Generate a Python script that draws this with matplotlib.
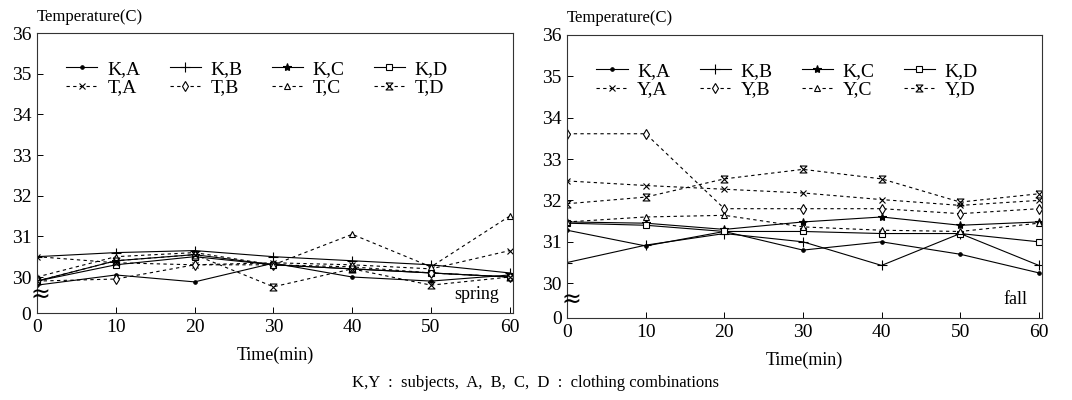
import matplotlib
matplotlib.use('Agg')
import matplotlib.pyplot as plt

plt.rcParams['font.family'] = ['Liberation Serif', 'DejaVu Serif']

time_min = [0, 10, 20, 30, 40, 50, 60]

# spring: subjects K and T
spring = {
    'K,A': [29.8, 30.05, 29.88, 30.34, 30.0, 29.9, 30.05],
    'K,B': [30.5, 30.6, 30.65, 30.5, 30.4, 30.3, 30.1],
    'K,C': [29.9, 30.4, 30.55, 30.3, 30.2, 30.1, 30.0],
    'K,D': [29.9, 30.3, 30.5, 30.3, 30.2, 30.1, 30.0],
    'T,A': [30.5, 30.35, 30.3, 30.35, 30.3, 30.2, 30.65],
    'T,B': [29.9, 29.95, 30.3, 30.3, 30.25, 30.1, 30.0],
    'T,C': [30.0, 30.5, 30.6, 30.3, 31.05, 30.25, 31.5],
    'T,D': [29.9, 30.4, 30.55, 29.76, 30.2, 29.8, 30.0],
}

# fall: subjects K and Y
fall = {
    'K,A': [31.28, 30.9, 31.25, 30.8, 31.0, 30.7, 30.25],
    'K,B': [30.5, 30.92, 31.2, 31.0, 30.43, 31.2, 30.43],
    'K,C': [31.48, 31.45, 31.3, 31.48, 31.6, 31.4, 31.48],
    'K,D': [31.45, 31.4, 31.25, 31.25, 31.2, 31.2, 31.0],
    'Y,A': [32.47, 32.36, 32.27, 32.18, 32.02, 31.88, 32.0],
    'Y,B': [33.61, 33.61, 31.8, 31.8, 31.8, 31.68, 31.8],
    'Y,C': [31.48, 31.6, 31.64, 31.36, 31.28, 31.25, 31.45],
    'Y,D': [31.92, 32.08, 32.52, 32.75, 32.52, 31.96, 32.16],
}

hourglass = [(-1, 1), (1, 1), (-1, -1), (1, -1), (-1, 1)]
styles = [
    dict(ls='-', marker='.', ms=5),
    dict(ls='-', marker='+', ms=7),
    dict(ls='-', marker='*', ms=6),
    dict(ls='-', marker='s', ms=5, mfc='white'),
    dict(ls=(0, (3, 3)), marker='x', ms=4),
    dict(ls=(0, (3, 3)), marker='d', ms=5, mfc='white'),
    dict(ls=(0, (3, 3)), marker='^', ms=5, mfc='white'),
    dict(ls=(0, (3, 3)), marker=hourglass, ms=5, mfc='none'),
]

fig = plt.figure(figsize=(10.72, 4.0), dpi=100)


def panel(rect, data, ybot, season):
    ax = fig.add_axes(rect)
    handles = []
    for (name, vals), st in zip(data.items(), styles):
        h, = ax.plot(time_min, vals, color='black', lw=0.8, mew=0.8, label=name, **st)
        handles.append(h)
    ax.set_xlim(0, 60.4)
    ax.set_ylim(ybot, 36)
    ax.set_xticks(time_min)
    ax.set_yticks([ybot, 30, 31, 32, 33, 34, 35, 36])
    ax.set_yticklabels(['0', '30', '31', '32', '33', '34', '35', '36'])
    ax.tick_params(direction='in', length=4, width=0.7, labelsize=14, pad=4)
    for s in ax.spines.values():
        s.set_linewidth(0.8)
        s.set_color('#333333')
    order = [0, 4, 1, 5, 2, 6, 3, 7]
    ax.legend([handles[i] for i in order], [handles[i].get_label() for i in order],
              ncol=4, loc='upper left', bbox_to_anchor=(0.025, 0.965), frameon=False,
              fontsize=14, handlelength=1.6, handletextpad=0.5, columnspacing=1.5,
              labelspacing=0.05)
    ax.text(0.0, 1.03, 'Temperature(C)', transform=ax.transAxes, fontsize=12,
            ha='left', va='bottom')
    ax.text(0.5, -0.12, 'Time(min)', transform=ax.transAxes, fontsize=13,
            ha='center', va='top')
    ax.text(0.97, 0.035, season, transform=ax.transAxes, fontsize=13,
            ha='right', va='bottom')
    ax.text(0.008, 0.065, '\u2248', transform=ax.transAxes, fontsize=17,
            ha='center', va='center', family='DejaVu Sans')
    return ax


panel([0.0345, 0.2175, 0.444, 0.70], spring, 29.115, 'spring')
panel([0.529, 0.205, 0.443, 0.708], fall, 29.16, 'fall')

fig.text(0.5, 0.043, 'K,Y  :  subjects,  A,  B,  C,  D  :  clothing combinations',
         ha='center', va='center', fontsize=12)

fig.savefig('out.png', dpi=100)
